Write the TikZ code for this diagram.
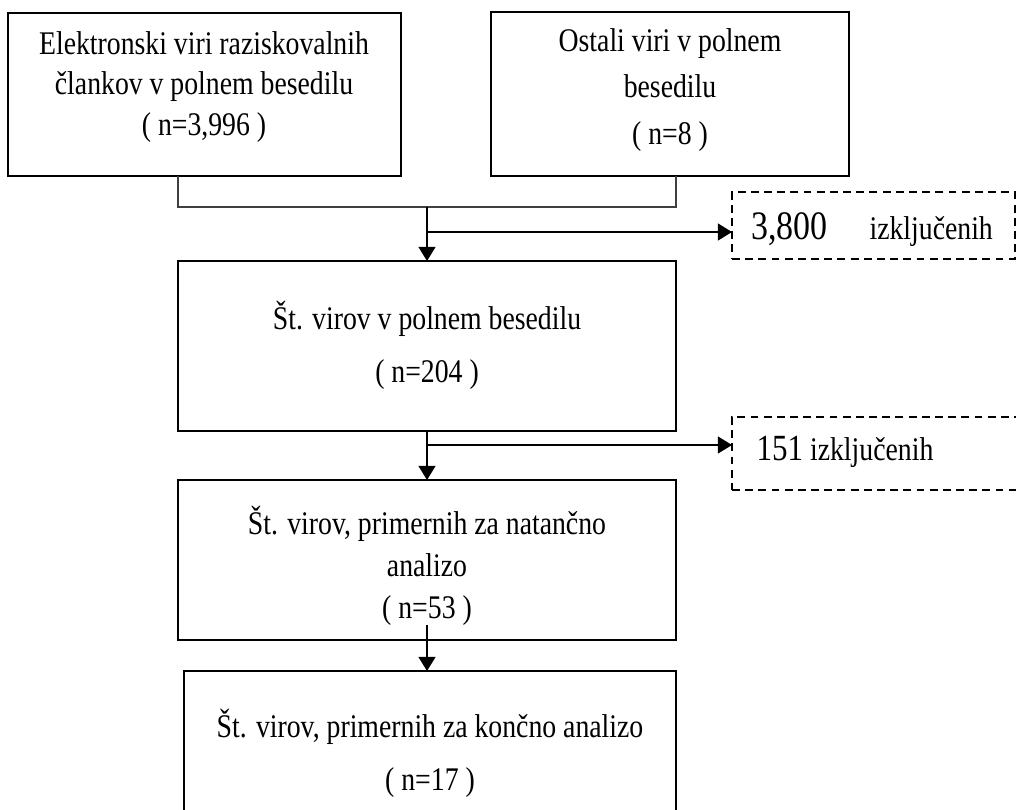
\documentclass[tikz,border=0pt]{standalone}
\usepackage{fontspec}
\setmainfont[FakeStretch=0.84]{Liberation Serif}
\usetikzlibrary{arrows.meta}

\begin{document}
\begin{tikzpicture}
        [x=0.02cm, y=-0.02cm,
        box/.style={draw, line width=1.1pt, inner sep=0pt, outer sep=0pt},
        boxDashed/.style={draw, line width=1pt, dash pattern=on 4.5pt off 3pt, inner sep=0pt, outer sep=0pt},
        txt/.style={align=center, inner sep=0pt, font=\fontsize{18.8}{#1}\selectfont},
        arrow/.style={line width=1.1pt, -{Triangle[length=8pt, width=9.5pt]}}]
        \useasboundingbox (0,0) rectangle (1016,809);

        \node[box, minimum width=7.86cm, minimum height=3.26cm] (B1) at (204.5,94.5) {};
        \node[box, minimum width=7.16cm, minimum height=3.28cm] (B2) at (670,94) {};
        \node[box, minimum width=9.96cm, minimum height=3.4cm] (B3) at (427,346) {};
        \node[box, minimum width=9.96cm, minimum height=3.2cm] (B4) at (427,560) {};
        \node[box, minimum width=9.84cm, minimum height=3.38cm] (B5) at (430,755.5) {};
        \node[boxDashed, minimum width=5.66cm, minimum height=1.34cm] (D1) at (873.5,225.5) {};
        \node[boxDashed, minimum width=5.86cm, minimum height=1.46cm] (D2) at (878.5,453.5) {};

        \node[txt=23pt] (T1) at (204,87) {Elektronski viri raziskovalnih\\člankov v polnem besedilu\\( n=3,996 )};
        \node[txt=26.7pt] (T2) at (670,90) {Ostali viri v polnem\\besedilu\\( n=8 )};
        \node[txt=30pt] (T3) at (427,345) {Št. virov v polnem besedilu\\( n=204 )};
        \node[txt=24pt] (T4) at (427,566) {Št. virov, primernih za natančno\\analizo\\( n=53 )};
        \node[txt=30pt] (T5) at (430,753) {Št. virov, primernih za končno analizo\\( n=17 )};
        \node[txt=20pt] (T6) at (872,230) {{\fontsize{23}{24}\selectfont 3,800}\hspace{0.84cm}izključenih};
        \node[txt=20pt] (T7) at (845,452) {{\fontsize{21}{22}\selectfont 151} izključenih};

        \coordinate (J1) at (427,207);
        \coordinate (J2) at (427,232);
        \coordinate (J3) at (427,445);

        \draw[line width=0.9pt, black!75] (B1.south -| B3.west) -- (B3.west |- J1) -- (B3.east |- J1) -- (B2.south -| B3.east);
        \draw[arrow] (J1) -- (B3.north);
        \draw[arrow] (J2) -- (J2 -| D1.west);
        \draw[arrow] (B3.south) -- (B4.north);
        \draw[arrow] (J3) -- (J3 -| D2.west);
        \draw[arrow, shorten <=-0.3cm] (B4.south) -- (B4.south |- B5.north);

    \end{tikzpicture}
\end{document}
